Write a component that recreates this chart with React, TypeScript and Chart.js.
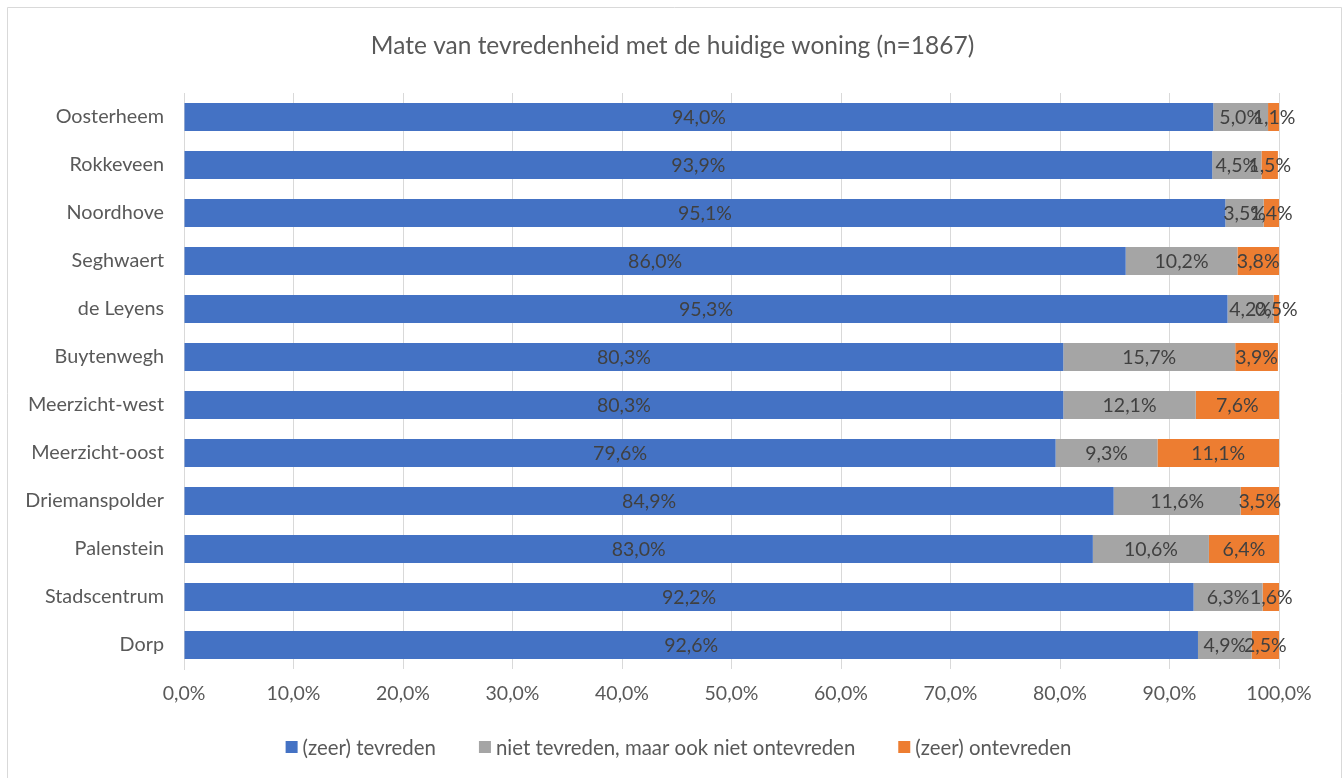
import React, { useEffect, useRef } from "react";
import { Chart, registerables } from "chart.js";

Chart.register(...registerables);

const TITLE = "Mate van tevredenheid met de huidige woning (n=1867)";
const categories = [
  "Oosterheem",
  "Rokkeveen",
  "Noordhove",
  "Seghwaert",
  "de Leyens",
  "Buytenwegh",
  "Meerzicht-west",
  "Meerzicht-oost",
  "Driemanspolder",
  "Palenstein",
  "Stadscentrum",
  "Dorp",
];
const seriesNames = [
  "(zeer) tevreden",
  "niet tevreden, maar ook niet ontevreden",
  "(zeer) ontevreden",
];
const tevreden = [94.0, 93.9, 95.1, 86.0, 95.3, 80.3, 80.3, 79.6, 84.9, 83.0, 92.2, 92.6];
const neutraal = [5.0, 4.5, 3.5, 10.2, 4.2, 15.7, 12.1, 9.3, 11.6, 10.6, 6.3, 4.9];
const ontevreden = [1.1, 1.5, 1.4, 3.8, 0.5, 3.9, 7.6, 11.1, 3.5, 6.4, 1.6, 2.5];
const xTicks = [0, 10, 20, 30, 40, 50, 60, 70, 80, 90, 100];
const colors = ["#4472C4", "#A5A5A5", "#ED7D31"];

const FONT = "Lato, 'Open Sans', sans-serif";
const fmt = (v: number) => v.toFixed(1).replace(".", ",") + "%";

const framePlugin = {
  id: "frameAndTitle",
  beforeDraw(chart: any) {
    const ctx = chart.ctx;
    ctx.save();
    ctx.fillStyle = "#ffffff";
    ctx.fillRect(0, 0, chart.width, chart.height);
    ctx.strokeStyle = "#D9D9D9";
    ctx.lineWidth = 1;
    ctx.beginPath();
    ctx.moveTo(7.5, chart.height + 2);
    ctx.lineTo(7.5, 7.5);
    ctx.lineTo(1341.5, 7.5);
    ctx.lineTo(1341.5, chart.height + 2);
    ctx.stroke();
    ctx.font = `24.5px ${FONT}`;
    ctx.fillStyle = "#595959";
    ctx.textAlign = "center";
    ctx.textBaseline = "middle";
    ctx.fillText(TITLE, chart.width / 2 + 1, 46);
    ctx.restore();
  },
};

const labelPlugin = {
  id: "segLabels",
  afterDatasetsDraw(chart: any) {
    const ctx = chart.ctx;
    ctx.save();
    ctx.font = `19.5px ${FONT}`;
    ctx.fillStyle = "#404040";
    ctx.textAlign = "center";
    ctx.textBaseline = "middle";
    chart.data.datasets.forEach((ds: any, di: number) => {
      const meta = chart.getDatasetMeta(di);
      meta.data.forEach((el: any, i: number) => {
        const { x, base, y } = el.getProps(["x", "base", "y"], true);
        ctx.fillText(fmt(ds.data[i]), (x + base) / 2, y + 1);
      });
    });
    ctx.restore();
  },
};

const legendPlugin = {
  id: "customLegend",
  afterDraw(chart: any) {
    const ctx = chart.ctx;
    ctx.save();
    ctx.font = `20.4px ${FONT}`;
    ctx.textBaseline = "middle";
    const box = 12;
    const gapText = 5;
    const gapItem = 43;
    const widths = seriesNames.map((n) => ctx.measureText(n).width);
    const total =
      widths.reduce((a, w) => a + box + gapText + w, 0) + gapItem * (seriesNames.length - 1);
    let x = chart.width / 2 - total / 2 + 7;
    const y = 747;
    seriesNames.forEach((n, i) => {
      ctx.fillStyle = colors[i];
      ctx.fillRect(x, y - box / 2, box, box);
      ctx.fillStyle = "#595959";
      ctx.textAlign = "left";
      ctx.fillText(n, x + box + gapText, y + 1);
      x += box + gapText + widths[i] + gapItem;
    });
    ctx.restore();
  },
};

export default function App() {
  const ref = useRef<HTMLCanvasElement | null>(null);
  useEffect(() => {
    if (!ref.current) return;
    const chart = new Chart(ref.current, {
      type: "bar",
      data: {
        labels: categories,
        datasets: [
          { label: seriesNames[0], data: tevreden, backgroundColor: colors[0] },
          { label: seriesNames[1], data: neutraal, backgroundColor: colors[1] },
          { label: seriesNames[2], data: ontevreden, backgroundColor: colors[2] },
        ].map((d) => ({ ...d, categoryPercentage: 0.583, barPercentage: 1, borderWidth: 0 })),
      },
      options: {
        indexAxis: "y",
        animation: false,
        responsive: false,
        maintainAspectRatio: false,
        layout: { padding: { top: 93, left: 8, right: 64, bottom: 59 } },
        plugins: {
          legend: { display: false },
          tooltip: { enabled: false },
          title: { display: false },
        },
        scales: {
          x: {
            stacked: true,
            min: 0,
            max: 100,
            afterBuildTicks(scale: any) {
              scale.ticks = xTicks.map((v) => ({ value: v }));
            },
            afterFit(scale: any) {
              scale.height = 50;
            },
            grid: { color: "#D9D9D9", drawTicks: false, lineWidth: 1 },
            border: { display: false },
            ticks: {
              color: "#595959",
              font: { family: FONT, size: 19.5 },
              padding: 13,
              maxRotation: 0,
              callback: (v: any) => fmt(Number(v)),
            },
          },
          y: {
            stacked: true,
            afterFit(scale: any) {
              scale.width = 176;
            },
            grid: { display: false, drawTicks: false },
            border: { display: true, color: "#D9D9D9", width: 1 },
            ticks: {
              color: "#595959",
              font: { family: FONT, size: 19.8 },
              padding: 20,
            },
          },
        },
      },
      plugins: [framePlugin, labelPlugin, legendPlugin],
    });
    return () => chart.destroy();
  }, []);
  return (
    <div style={{ position: "absolute", left: 0, top: 0, width: 1343, height: 778 }}>
      <canvas ref={ref} width={1343} height={778} style={{ width: 1343, height: 778, display: "block" }} />
    </div>
  );
}
